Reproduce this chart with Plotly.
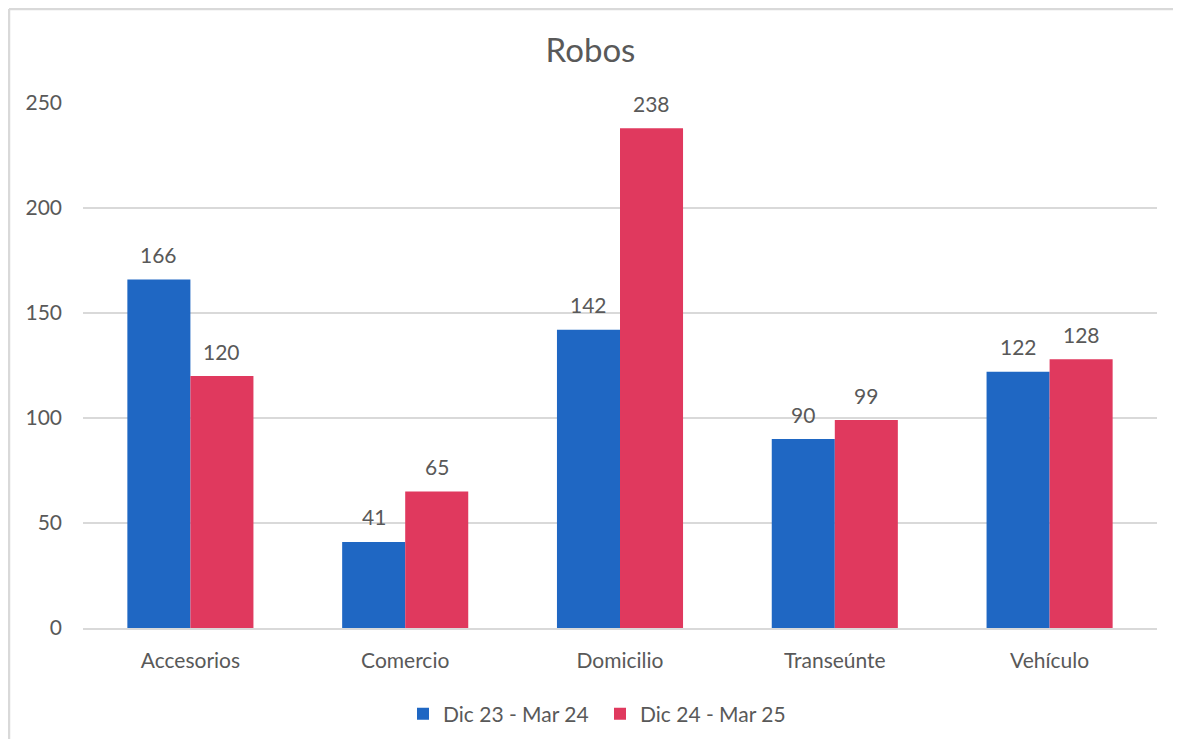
import plotly.graph_objects as go

categories = ["Accesorios", "Comercio", "Domicilio", "Transeúnte", "Vehículo"]
series_names = ["Dic 23 - Mar 24", "Dic 24 - Mar 25"]
values_2324 = [166, 41, 142, 90, 122]
values_2425 = [120, 65, 238, 99, 128]
y_ticks = [0, 50, 100, 150, 200, 250]

colors = ["#1F67C3", "#E0395E"]
text_color = "#595959"
grid_color = "#D9D9D9"
font_family = "Lato, Open Sans, sans-serif"

W, H = 1165, 731
L, T, PW, PH = 75, 95, 1074, 525

fig = go.Figure()
for name, vals, col in zip(series_names, [values_2324, values_2425], colors):
    fig.add_trace(go.Bar(x=categories, y=vals, name=name, marker_color=col,
                         marker_line_width=0))

# data labels
for vals, shift in zip([values_2324, values_2425], [-31.5, 31.5]):
    for c, v in zip(categories, vals):
        fig.add_annotation(x=c, y=v, text=str(v), showarrow=False,
                           xshift=shift, yshift=25, yanchor="middle",
                           font=dict(size=21, color=text_color, family=font_family))

# chart border (left and top)
x_left = (1 - L) / PW
y_top = 1 + (T - 1) / PH
fig.add_shape(type="line", xref="paper", yref="paper", x0=x_left, x1=(W - L) / PW,
              y0=y_top, y1=y_top, line=dict(color=grid_color, width=2.5))
fig.add_shape(type="line", xref="paper", yref="paper", x0=x_left, x1=x_left,
              y0=y_top, y1=-(H - T - PH) / PH, line=dict(color=grid_color, width=2.5))

fig.update_layout(
    width=W, height=H,
    margin=dict(l=L, r=W - L - PW, t=T, b=H - T - PH, autoexpand=False),
    paper_bgcolor="white", plot_bgcolor="white",
    barmode="group", bargap=0.413, bargroupgap=0,
    font=dict(family=font_family, color=text_color, size=21),
    title=dict(text="Robos", x=0.5, xanchor="center", y=1 - 42 / H, yanchor="middle",
               font=dict(size=33, color=text_color, family=font_family)),
    showlegend=True,
    legend=dict(orientation="h", x=(395 - L) / PW, xanchor="left", y=-86 / PH, yanchor="middle",
                font=dict(size=21, color=text_color), entrywidth=152, traceorder="normal"),
    xaxis=dict(showgrid=False, showline=True, linecolor=grid_color, linewidth=2,
               automargin=False,
               ticks="", ticklabelstandoff=13, tickfont=dict(size=21, color=text_color)),
    yaxis=dict(range=[0, 250], tickvals=y_ticks, showgrid=True, gridcolor=grid_color,
               gridwidth=2, zeroline=False, showline=False, ticks="", automargin=False,
               ticklabelstandoff=20, tickfont=dict(size=21, color=text_color)),
)

fig.write_html("out.html")
